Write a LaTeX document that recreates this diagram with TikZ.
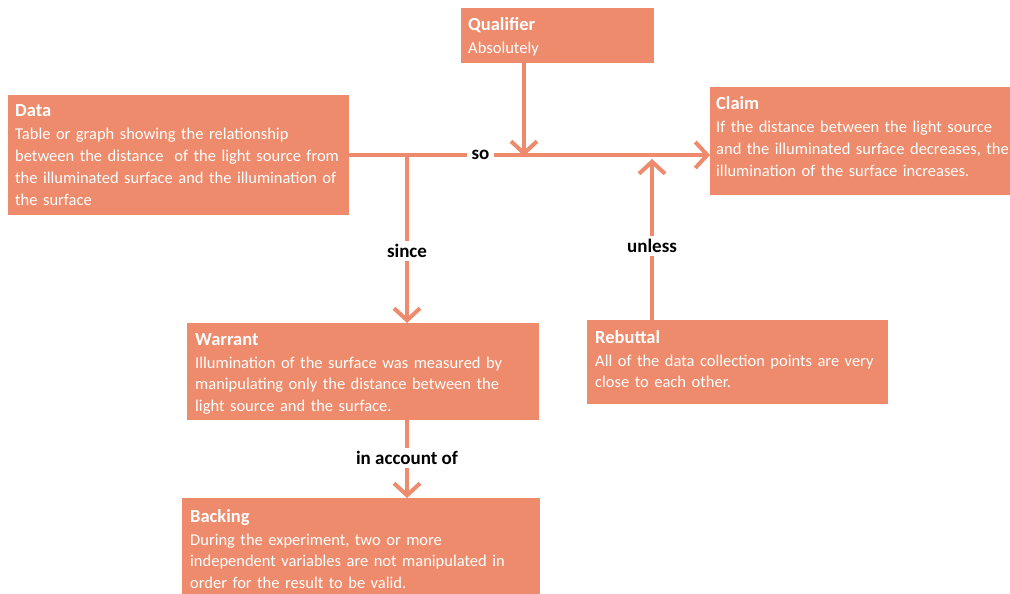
\documentclass[tikz,border=0pt]{standalone}
\usepackage{fontspec}
\setmainfont{Carlito}
\usetikzlibrary{arrows.meta}
\definecolor{salmon}{RGB}{237,139,108}

\begin{document}
\begin{tikzpicture}[x=1pt,y=-1pt,
  card/.style={fill=salmon, inner sep=0pt, outer sep=0pt, anchor=north west},
  cardtext/.style={anchor=base west, align=left, inner sep=0pt, text=white,
    text width=#1, font=\fontsize{16.5}{21.7}\selectfont},
  cardtext/.default=400pt,
  link/.style={draw=salmon, line width=4pt,
    -{Straight Barb[length=12pt,width=26pt]}},
  tag/.style={fill=white, text=black, inner xsep=5pt, inner ysep=3pt,
    font=\fontsize{19}{20}\selectfont\bfseries}
]
\newcommand{\cardtitle}[1]{{\fontsize{18.5}{21.7}\selectfont\bfseries #1}\\[1.3pt]}

\useasboundingbox (0,0) rectangle (1010,594);

% boxes
\node[card, minimum width=341pt, minimum height=120pt] (data) at (7.5,95) {};
\node[card, minimum width=193pt, minimum height=55pt] (qual) at (461,8) {};
\node[card, minimum width=310pt, minimum height=108pt] (claim) at (710,87) {};
\node[card, minimum width=352pt, minimum height=97pt] (warrant) at (186.5,323) {};
\node[card, minimum width=301pt, minimum height=84pt] (rebuttal) at (586.5,320) {};
\node[card, minimum width=358pt, minimum height=110pt] (backing) at (181.5,498) {};

% box texts
\node[cardtext] (data-text) at (15,117) {\cardtitle{Data}
Table or graph showing the relationship\\
between the distance\ \ of the light source from\\
the illuminated surface and the illumination of\\
the surface};
\node[cardtext] (qual-text) at (468,30.5) {\cardtitle{Qualifier}
Absolutely};
\node[cardtext] (claim-text) at (716,110) {\cardtitle{Claim}
If the distance between the light source\\
and the illuminated surface decreases, the\\
illumination of the surface increases.};
\node[cardtext] (warrant-text) at (195,345) {\cardtitle{Warrant}
Illumination of the surface was measured by\\
manipulating only the distance between the\\
light source and the surface.};
\node[cardtext] (rebuttal-text) at (595,343) {\cardtitle{Rebuttal}
All of the data collection points are very\\
close to each other.};
\node[cardtext] (backing-text) at (190,522) {\cardtitle{Backing}
During the experiment, two or more\\
independent variables are not manipulated in\\
order for the result to be valid.};

% junction points on the connectors
\coordinate (qfoot) at (524,156);
\coordinate (sjoin) at (407,156);
\coordinate (rtip) at (652,159);

% connectors
\draw[link] (data.east) -- (data.east -| claim.west)
  node[tag, pos=0.365] {so};
\draw[link] (qual.south -| qfoot) -- (qfoot);
\draw[link] (sjoin) -- (sjoin |- warrant.north)
  node[tag, pos=0.569] {since};
\draw[link] (warrant.south -| sjoin) -- (backing.north -| sjoin)
  node[tag, pos=0.487] {in account of};
\draw[link] (rebuttal.north -| rtip) -- (rtip)
  node[tag, pos=0.46] {unless};
\end{tikzpicture}
\end{document}
